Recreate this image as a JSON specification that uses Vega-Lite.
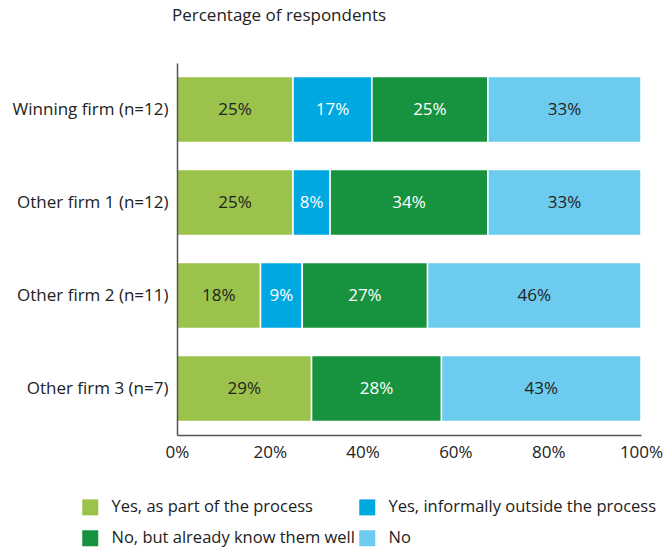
{
  "$schema": "https://vega.github.io/schema/vega-lite/v6.json",
  "autosize": {"type": "none"},
  "padding": {"left": 177, "top": 63, "right": 27, "bottom": 118},
  "width": 464,
  "height": 372,
  "background": "white",
  "config": {
    "font": "Open Sans",
    "view": {"stroke": null},
    "text": {"font": "Open Sans"}
  },
  "title": {
    "text": "Percentage of respondents",
    "anchor": "start",
    "frame": "group",
    "dx": -5,
    "offset": 38,
    "fontSize": 17,
    "fontWeight": "normal",
    "color": "#222222",
    "font": "Open Sans"
  },
  "data": {
    "values": [
      {"firm": "Winning firm (n=12)", "cat": "Yes, as part of the process", "ord": 1, "value": 0.25},
      {"firm": "Winning firm (n=12)", "cat": "Yes, informally outside the process", "ord": 2, "value": 0.17},
      {"firm": "Winning firm (n=12)", "cat": "No, but already know them well", "ord": 3, "value": 0.25},
      {"firm": "Winning firm (n=12)", "cat": "No", "ord": 4, "value": 0.33},
      {"firm": "Other firm 1 (n=12)", "cat": "Yes, as part of the process", "ord": 1, "value": 0.25},
      {"firm": "Other firm 1 (n=12)", "cat": "Yes, informally outside the process", "ord": 2, "value": 0.08},
      {"firm": "Other firm 1 (n=12)", "cat": "No, but already know them well", "ord": 3, "value": 0.34},
      {"firm": "Other firm 1 (n=12)", "cat": "No", "ord": 4, "value": 0.33},
      {"firm": "Other firm 2 (n=11)", "cat": "Yes, as part of the process", "ord": 1, "value": 0.18},
      {"firm": "Other firm 2 (n=11)", "cat": "Yes, informally outside the process", "ord": 2, "value": 0.09},
      {"firm": "Other firm 2 (n=11)", "cat": "No, but already know them well", "ord": 3, "value": 0.27},
      {"firm": "Other firm 2 (n=11)", "cat": "No", "ord": 4, "value": 0.46},
      {"firm": "Other firm 3 (n=7)", "cat": "Yes, as part of the process", "ord": 1, "value": 0.29},
      {"firm": "Other firm 3 (n=7)", "cat": "No, but already know them well", "ord": 3, "value": 0.28},
      {"firm": "Other firm 3 (n=7)", "cat": "No", "ord": 4, "value": 0.43}
    ]
  },
  "encoding": {
    "y": {
      "field": "firm",
      "type": "nominal",
      "sort": null,
      "scale": {"paddingInner": 0.29, "paddingOuter": 0.145},
      "axis": {
        "title": null,
        "ticks": false,
        "labelPadding": 9,
        "labelFontSize": 17,
        "labelColor": "#222222",
        "labelFont": "Open Sans",
        "domainColor": "#555555",
        "domainWidth": 1.5,
        "labelLimit": 300,
        "zindex": 1
      }
    },
    "x": {
      "field": "value",
      "type": "quantitative",
      "stack": "zero",
      "scale": {"domain": [0, 1]},
      "axis": {
        "title": null,
        "ticks": false,
        "grid": false,
        "values": [0, 0.2, 0.4, 0.6, 0.8, 1],
        "format": ".0%",
        "labelPadding": 9,
        "labelFontSize": 17,
        "labelColor": "#222222",
        "labelFont": "Open Sans",
        "domainColor": "#555555",
        "domainWidth": 1.5,
        "labelFlush": false,
        "zindex": 1
      }
    },
    "order": {"field": "ord", "type": "quantitative"}
  },
  "layer": [
    {
      "mark": {"type": "bar", "stroke": "white", "strokeWidth": 1.5},
      "encoding": {
        "color": {
          "field": "cat",
          "type": "nominal",
          "scale": {
            "domain": ["Yes, as part of the process", "Yes, informally outside the process", "No, but already know them well", "No"],
            "range": ["#9BC24B", "#00A8E1", "#17933F", "#6DCBEF"]
          },
          "legend": {
            "title": null,
            "orient": "none",
            "legendX": -95,
            "legendY": 436,
            "direction": "horizontal",
            "columns": 2,
            "columnPadding": 4,
            "rowPadding": 14,
            "symbolType": "square",
            "symbolSize": 256,
            "symbolStrokeWidth": 0,
            "labelFontSize": 16.5,
            "labelFont": "Open Sans",
            "labelColor": "#222222",
            "labelOffset": 13,
            "labelLimit": 400
          }
        }
      }
    },
    {
      "mark": {"type": "text", "fontSize": 17, "align": "center", "baseline": "middle"},
      "encoding": {
        "x": {"field": "value", "type": "quantitative", "stack": "zero", "bandPosition": 0.5},
        "detail": {"field": "cat"},
        "text": {"field": "value", "type": "quantitative", "format": ".0%"},
        "color": {
          "condition": {"test": "datum.cat == 'Yes, informally outside the process' || datum.cat == 'No, but already know them well'", "value": "white"},
          "value": "#222222"
        }
      }
    }
  ]
}
